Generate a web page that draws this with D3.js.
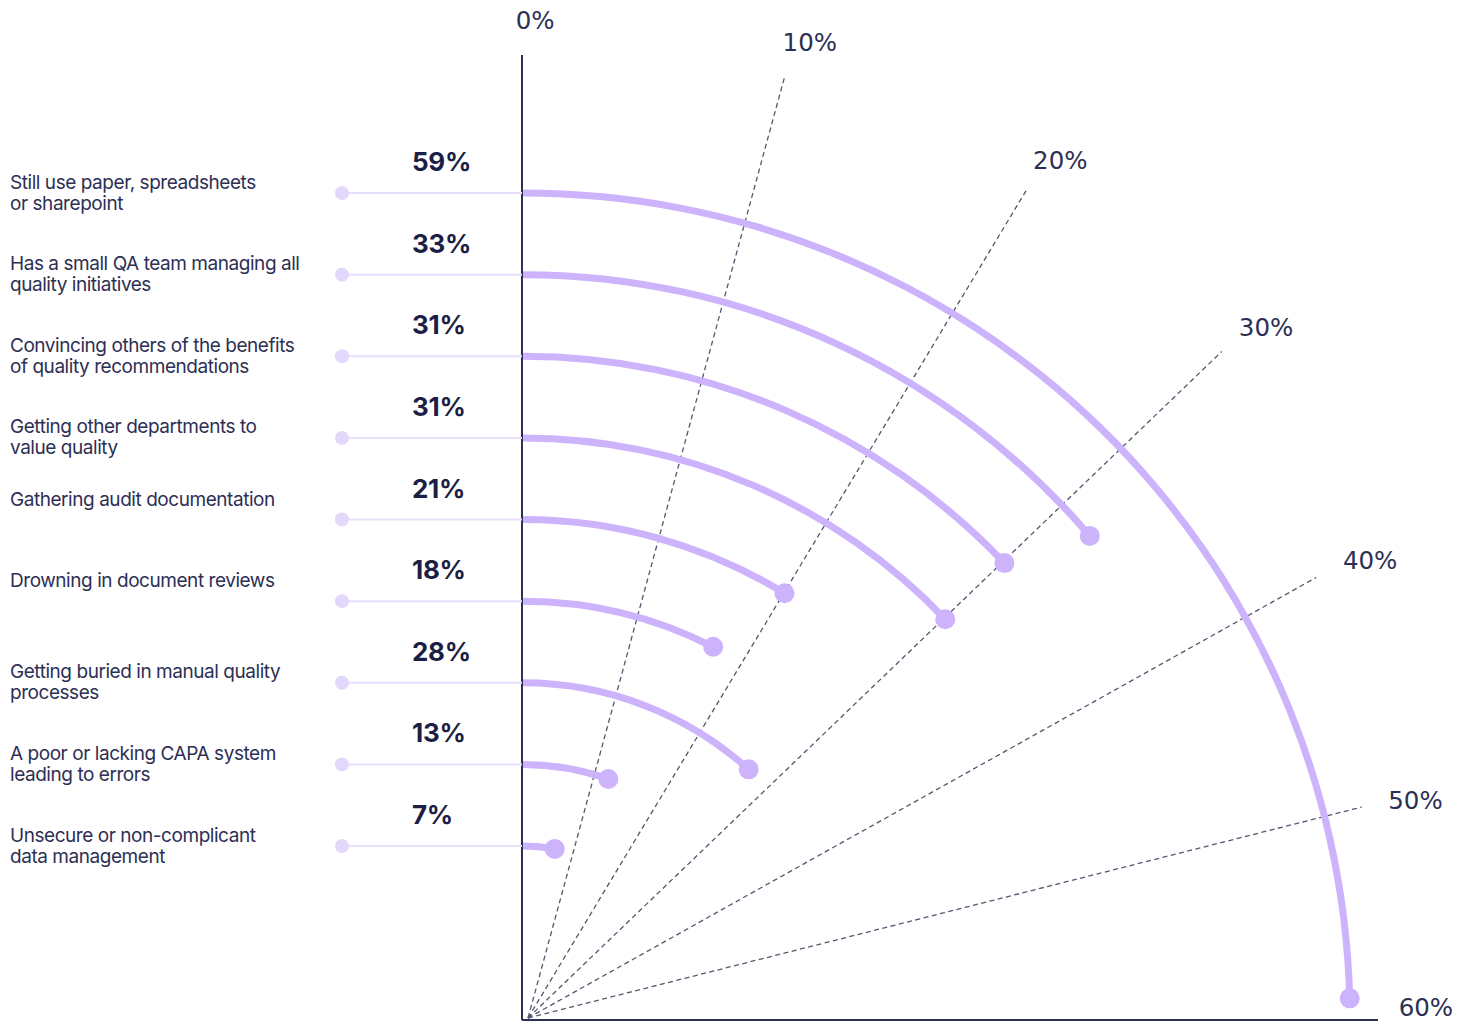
<!DOCTYPE html>
<html>
<head>
<meta charset="utf-8">
<script src="https://cdn.jsdelivr.net/npm/d3@7"></script>
<style>
  html, body { margin: 0; padding: 0; background: #ffffff; }
  svg { display: block; }
</style>
</head>
<body>
<svg id="chart" width="1475" height="1022"></svg>
<script>
// Survey answers, top to bottom
const categories = [
  "Still use paper, spreadsheets\nor sharepoint",
  "Has a small QA team managing all\nquality initiatives",
  "Convincing others of the benefits\nof quality recommendations",
  "Getting other departments to\nvalue quality",
  "Gathering audit documentation",
  "Drowning in document reviews",
  "Getting buried in manual quality\nprocesses",
  "A poor or lacking CAPA system\nleading to errors",
  "Unsecure or non-complicant\ndata management"
];
const values = [59, 33, 31, 31, 21, 18, 28, 13, 7];

// Radial axis ticks (percent)
const ticks = [0, 10, 20, 30, 40, 50, 60];
const tickLabels = ["0%", "10%", "20%", "30%", "40%", "50%", "60%"];

// Layout
const cx = 523, cy = 1020;                 // pivot of the value arcs
const sx = 528, sy = 1018;                 // pivot of the dashed spokes
const spokeTilt  = [0, 0.25, 1.05, 1.15, 0.8, 0.8, 0];  // degrees past the tick
const spokeLen   = [965, 977, 967, 962, 903, 860, 855];
const labelR     = [1000, 1019, 1014, 1016, 964, 919, 903];
const labelNudge = [0.7, 1.35, 2.0, 2.0, 1.5, 1.2, -0.8]; // degrees past the tick

const ink = "#2d2f54";
const inkBold = "#1c1e45";
const barColor = "#cdb3fb";
const faint = "#e8e0fb";
const faintDot = "#e3d7fb";
const deg = Math.PI / 180;

const svg = d3.select("#chart");

const angle = d3.scaleLinear().domain([0, 60]).range([0, Math.PI / 2]);
const rowY = d3.scalePoint().domain(d3.range(values.length)).range([193, 846]);

const polar = (r, a, ox = cx, oy = cy) => [ox + r * Math.sin(a), oy - r * Math.cos(a)];

// Dashed spokes for the inner ticks
const g = svg.append("g");
g.selectAll("line.spoke")
  .data(ticks.slice(1, -1).map((t, i) => ({ t, k: i + 1 })))
  .join("line")
  .attr("class", "spoke")
  .attr("x1", sx).attr("y1", sy)
  .attr("x2", d => polar(spokeLen[d.k], angle(d.t) + spokeTilt[d.k] * deg, sx, sy)[0])
  .attr("y2", d => polar(spokeLen[d.k], angle(d.t) + spokeTilt[d.k] * deg, sx, sy)[1])
  .attr("stroke", "#55566f")
  .attr("stroke-width", 1.3)
  .attr("stroke-dasharray", "5,3.5");

// Solid 0% and 60% axes
g.append("line")
  .attr("x1", cx - 1).attr("y1", cy)
  .attr("x2", polar(spokeLen[0], angle(0))[0] - 1)
  .attr("y2", polar(spokeLen[0], angle(0))[1])
  .attr("stroke", ink).attr("stroke-width", 2);
g.append("line")
  .attr("x1", cx - 1).attr("y1", cy)
  .attr("x2", polar(spokeLen[6], angle(60))[0])
  .attr("y2", cy)
  .attr("stroke", ink).attr("stroke-width", 2);

// Tick labels
g.selectAll("text.tick")
  .data(ticks.map((t, i) => ({ t, i })))
  .join("text")
  .attr("class", "tick")
  .attr("x", d => polar(labelR[d.i], angle(d.t) + labelNudge[d.i] * deg)[0])
  .attr("y", d => polar(labelR[d.i], angle(d.t) + labelNudge[d.i] * deg)[1])
  .attr("text-anchor", "middle")
  .attr("dominant-baseline", "central")
  .attr("font-family", "DejaVu Sans, sans-serif")
  .attr("font-size", 24.5)
  .attr("fill", ink)
  .text(d => tickLabels[d.i]);

// Rows
const rows = svg.append("g").selectAll("g.row")
  .data(values.map((v, i) => ({ v, i, label: categories[i] })))
  .join("g")
  .attr("class", "row");

// Faint leader from label to axis
rows.append("line")
  .attr("x1", 342).attr("x2", cx - 1)
  .attr("y1", d => rowY(d.i)).attr("y2", d => rowY(d.i))
  .attr("stroke", faint).attr("stroke-width", 2);
rows.append("circle")
  .attr("cx", 342).attr("cy", d => rowY(d.i)).attr("r", 7)
  .attr("fill", faintDot);

// Value arcs
const arc = d3.arc();
rows.append("path")
  .attr("transform", `translate(${cx},${cy})`)
  .attr("d", d => {
    const r = cy - rowY(d.i);
    return arc({ innerRadius: r - 3.5, outerRadius: r + 3.5, startAngle: 0, endAngle: angle(d.v) });
  })
  .attr("fill", barColor);
rows.append("circle")
  .attr("cx", d => polar(cy - rowY(d.i), angle(d.v))[0])
  .attr("cy", d => polar(cy - rowY(d.i), angle(d.v))[1])
  .attr("r", 10)
  .attr("fill", barColor);

// Value labels
rows.append("text")
  .attr("x", 412)
  .attr("y", d => rowY(d.i) - 22)
  .attr("font-family", "Inter, sans-serif")
  .attr("font-weight", 700)
  .attr("font-size", 26)
  .attr("letter-spacing", -0.3)
  .attr("fill", inkBold)
  .text(d => d.v + "%");

// Category labels
rows.append("text")
  .attr("font-family", "Inter, sans-serif")
  .attr("font-size", 19)
  .attr("letter-spacing", -0.45)
  .attr("fill", ink)
  .each(function (d) {
    const lines = d.label.split("\n");
    const lh = 21;
    const y0 = rowY(d.i) - (lines.length - 1) * lh / 2 + 6 - (lines.length === 1 ? 20 : 0);
    d3.select(this).selectAll("tspan")
      .data(lines)
      .join("tspan")
      .attr("x", 10)
      .attr("y", (l, k) => y0 + k * lh)
      .text(l => l);
  });
</script>
</body>
</html>
